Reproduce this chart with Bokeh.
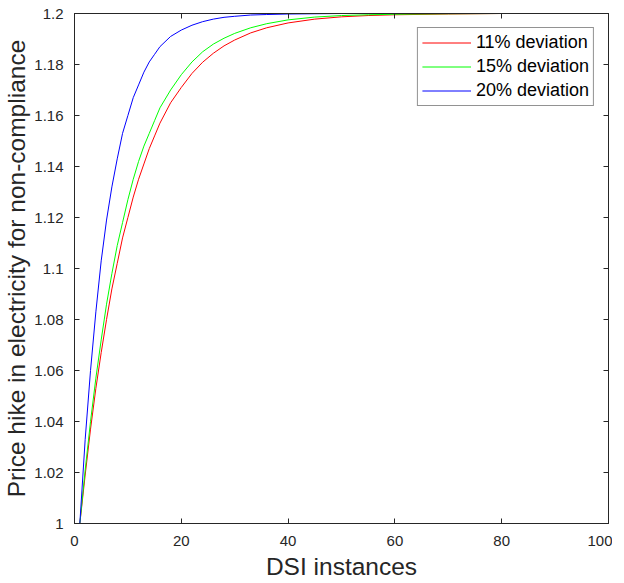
from bokeh.plotting import figure
from bokeh.models import Range1d, LinearAxis, FixedTicker, CustomJSTickFormatter, Legend, LegendItem
from bokeh.embed import file_html
from bokeh.resources import INLINE

# DSI instances (x) and price hike values
dsi = [1, 2, 3, 4, 5, 6, 7, 8, 9, 10, 11, 12, 13, 14, 15, 16, 18, 20, 22, 24, 26, 28, 30,
       33, 36, 40, 45, 50, 55, 60, 70, 80, 90, 100]
dev11 = [1.0, 1.019, 1.037, 1.053, 1.067, 1.080, 1.092, 1.102, 1.112, 1.120, 1.128, 1.135, 1.141,
         1.147, 1.152, 1.157, 1.165, 1.171, 1.1765, 1.1809, 1.1844, 1.1873, 1.1896,
         1.1924, 1.1944, 1.1963, 1.1978, 1.1987, 1.1992, 1.1995, 1.1998, 1.2, 1.2, 1.2]
dev15 = [1.0, 1.021, 1.040, 1.057, 1.072, 1.086, 1.098, 1.109, 1.118, 1.127, 1.135, 1.142, 1.148,
         1.153, 1.158, 1.163, 1.170, 1.176, 1.181, 1.185, 1.188, 1.1903, 1.1922,
         1.1944, 1.1960, 1.1975, 1.1986, 1.1992, 1.1995, 1.1997, 1.1999, 1.2, 1.2, 1.2]
dev20 = [1.0, 1.033, 1.060, 1.083, 1.103, 1.119, 1.132, 1.143, 1.153, 1.160, 1.167, 1.172, 1.177,
         1.181, 1.184, 1.187, 1.191, 1.1935, 1.1954, 1.1968, 1.1978, 1.1985, 1.1989,
         1.1994, 1.1996, 1.1998, 1.1999, 1.2, 1.2, 1.2, 1.2, 1.2, 1.2, 1.2]

series_labels = ["11% deviation", "15% deviation", "20% deviation"]
series_colors = ["#ff0000", "#00ff00", "#0000ff"]
x_ticks = [0, 20, 40, 60, 80, 100]
y_ticks = [1.0, 1.02, 1.04, 1.06, 1.08, 1.1, 1.12, 1.14, 1.16, 1.18, 1.2]

FONT = "Liberation Sans"
AX = "#262626"

p = figure(frame_width=534, frame_height=510, x_range=Range1d(0, 100), y_range=Range1d(1.0, 1.2),
           output_backend="svg", toolbar_location=None,
           min_border_left=74, min_border_right=4, min_border_top=13, min_border_bottom=50)
p.xgrid.visible = False
p.ygrid.visible = False
p.outline_line_color = AX
p.outline_line_width = 1

fmt = CustomJSTickFormatter(code="return String(Number(tick.toFixed(2)));")

for ax, ticks in ((p.xaxis[0], x_ticks), (p.yaxis[0], y_ticks)):
    ax.ticker = FixedTicker(ticks=ticks)
    ax.formatter = fmt
    ax.major_tick_in = 5
    ax.major_tick_out = 0
    ax.minor_tick_line_color = None
    ax.axis_line_color = AX
    ax.major_tick_line_color = AX
    ax.major_label_text_font = FONT
    ax.major_label_text_font_size = "15px"
    ax.major_label_text_color = AX
    ax.axis_label_text_font = FONT
    ax.axis_label_text_font_size = "24.5px"
    ax.axis_label_text_font_style = "normal"
    ax.axis_label_text_color = AX

p.xaxis[0].axis_label = "DSI instances"
p.xaxis[0].major_label_standoff = 12
p.xaxis[0].axis_label_standoff = 4
p.yaxis[0].axis_label = "Price hike in electricity for non-compliance"
p.yaxis[0].major_label_standoff = 11
p.yaxis[0].axis_label_standoff = 1

# top and right axes: ticks only (box style), labels not drawn
for loc, ticks in (("above", x_ticks), ("right", y_ticks)):
    ax = LinearAxis(ticker=FixedTicker(ticks=ticks))
    ax.major_tick_in = 5
    ax.major_tick_out = 0
    ax.minor_tick_line_color = None
    ax.axis_line_color = AX
    ax.major_tick_line_color = AX
    ax.major_label_text_font_size = "1px"
    ax.major_label_text_color = None
    ax.major_label_standoff = 0
    p.add_layout(ax, loc)

items = []
for ys, lab, col in zip((dev11, dev15, dev20), series_labels, series_colors):
    r = p.line(dsi, ys, line_color=col, line_width=1)
    items.append(LegendItem(label=lab, renderers=[r]))

legend = Legend(items=items, location="top_right")
legend.margin = 14
legend.padding = 4
legend.spacing = 3
legend.glyph_width = 49
legend.glyph_height = 21
legend.label_height = 21
legend.label_standoff = 5
legend.label_text_font = FONT
legend.label_text_font_size = "18px"
legend.label_text_color = "#000000"
legend.border_line_color = AX
legend.border_line_width = 1
legend.background_fill_color = "white"
legend.background_fill_alpha = 1.0
p.add_layout(legend, "center")

open("out.html", "w").write(file_html(p, INLINE))
